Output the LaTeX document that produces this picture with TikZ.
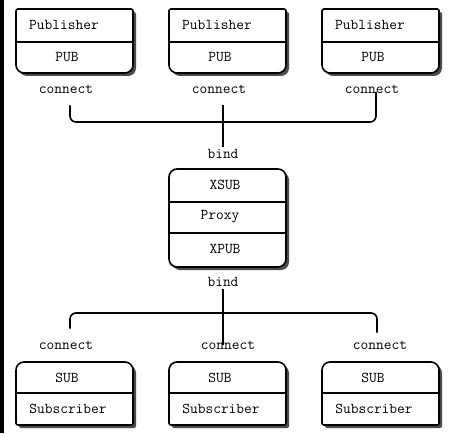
\documentclass[tikz,border=0pt]{standalone}
\usepackage{tikz}
\usetikzlibrary{shadows}

\begin{document}
\begin{tikzpicture}[x=1pt,y=-1pt,
    frame/.style={draw=black, line width=1.6pt, fill=white,
        drop shadow={shadow xshift=3pt, shadow yshift=-3pt, opacity=1, fill=black!70}},
    split/.style={black, line width=1.2pt},
    txt/.style={font=\fontsize{15}{18}\selectfont\ttfamily, inner sep=2pt},
    wire/.style={black, line width=1.6pt, rounded corners=6pt}]

        \useasboundingbox (0,0) rectangle (457,433);
        \fill[white] (0,0) rectangle (457,433);
        \fill[black] (0,0) rectangle (4,433);

        % publishers
        \path[frame] (16,26) [rounded corners=2pt] -- (16,9) -- (133,9) -- (133,26) [rounded corners=8pt] -- (133,73) -- (16,73) -- cycle;
        \path[frame] (169,26) [rounded corners=2pt] -- (169,9) -- (286,9) -- (286,26) [rounded corners=8pt] -- (286,73) -- (169,73) -- cycle;
        \path[frame] (322,26) [rounded corners=2pt] -- (322,9) -- (439,9) -- (439,26) [rounded corners=8pt] -- (439,73) -- (322,73) -- cycle;
        \draw[split] (16,42) -- (133,42);
        \draw[split] (169,42) -- (286,42);
        \draw[split] (322,42) -- (439,42);

        \node[txt] (pub1) at (64,25) {Publisher};
        \node[txt] (pub2) at (217,25) {Publisher};
        \node[txt] (pub3) at (370,25) {Publisher};
        \node[txt] (pubsock1) at (67,57) {PUB};
        \node[txt] (pubsock2) at (220,57) {PUB};
        \node[txt] (pubsock3) at (373,57) {PUB};

        % proxy
        \path[frame, rounded corners=8pt] (169,169) rectangle (286,267);
        \draw[split] (169,202) -- (286,202);
        \draw[split] (169,233) -- (286,233);
        \node[txt] (xsub) at (225,185) {XSUB};
        \node[txt] (proxy) at (220,217) {Proxy};
        \node[txt] (xpub) at (225,249) {XPUB};

        % subscribers
        \path[frame] (16,394) [rounded corners=8pt] -- (16,362) -- (133,362) -- (133,394) [rounded corners=2pt] -- (133,425) -- (16,425) -- cycle;
        \path[frame] (169,394) [rounded corners=8pt] -- (169,362) -- (286,362) -- (286,394) [rounded corners=2pt] -- (286,425) -- (169,425) -- cycle;
        \path[frame] (322,394) [rounded corners=8pt] -- (322,362) -- (439,362) -- (439,394) [rounded corners=2pt] -- (439,425) -- (322,425) -- cycle;
        \draw[split] (16,393) -- (133,393);
        \draw[split] (169,393) -- (286,393);
        \draw[split] (322,393) -- (439,393);

        \node[txt] (subsock1) at (67,378) {SUB};
        \node[txt] (subsock2) at (220,378) {SUB};
        \node[txt] (subsock3) at (373,378) {SUB};
        \node[txt] (sub1) at (68,409) {Subscriber};
        \node[txt] (sub2) at (221,409) {Subscriber};
        \node[txt] (sub3) at (374,409) {Subscriber};

        % labels
        \node[txt] (con1) at (66,89) {connect};
        \node[txt] (con2) at (219,89) {connect};
        \node[txt] (con3) at (372,89) {connect};
        \node[txt] (bind1) at (223,154) {bind};
        \node[txt] (bind2) at (223,282) {bind};
        \node[txt] (con4) at (66,345) {connect};
        \node[txt] (con5) at (228,345) {connect};
        \node[txt] (con6) at (380,345) {connect};

        % wires
        \coordinate (pubhub) at (223,122);
        \coordinate (subhub) at (223,313);
        \draw[wire] ([xshift=4pt,yshift=-10pt]con1.south) |- (pubhub) -| ([xshift=4pt,yshift=-3pt]con3.center);
        \draw[wire] ([xshift=4pt,yshift=-10pt]con2.south) -- (bind1.north);
        \draw[wire] ([xshift=4pt,yshift=10pt]con4.north) |- (subhub) -| ([xshift=-3pt,yshift=6pt]con6.north);
        \draw[wire] (bind2.south) -- ([xshift=-5pt]con5.center);

    \end{tikzpicture}
\end{document}
